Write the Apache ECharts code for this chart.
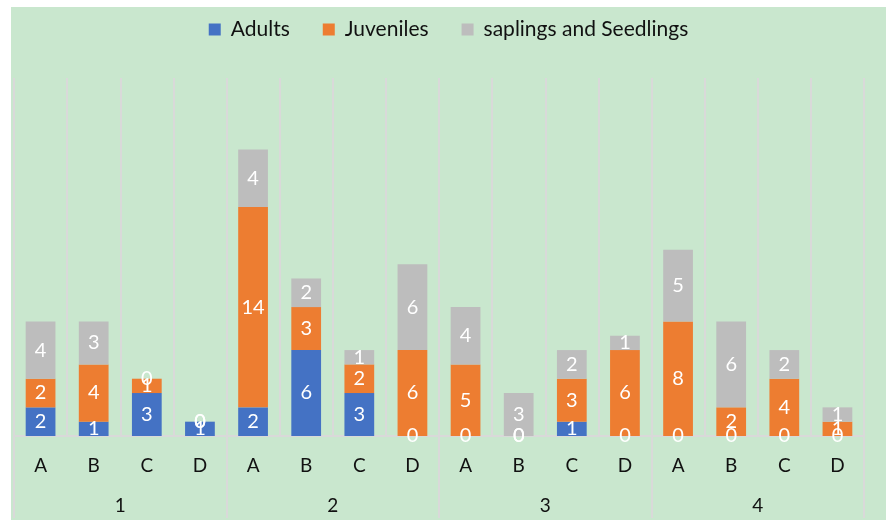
<!DOCTYPE html>
<html>
<head>
<meta charset="utf-8">
<script src="https://cdn.jsdelivr.net/npm/echarts@6/dist/echarts.min.js"></script>
<style>
html,body{margin:0;padding:0;background:#ffffff;}
#c{position:absolute;left:11px;top:7px;width:875px;height:513px;}
</style>
</head>
<body>
<div id="c"></div>
<script>
const categories = ['A','B','C','D','A','B','C','D','A','B','C','D','A','B','C','D'];
const groups = ['1','2','3','4'];
const adults    = [2,1,3,1, 2,6,3,0, 0,0,1,0, 0,0,0,0];
const juveniles = [2,4,1,0, 14,3,2,6, 5,0,3,6, 8,2,4,1];
const saplings  = [4,3,0,0, 4,2,1,6, 4,3,2,1, 5,6,2,1];

const FONT = 'Lato';
const chart = echarts.init(document.getElementById('c'));
const lbl = {show:true, position:'inside', color:'#ffffff', fontSize:20, fontFamily:FONT};
function mk(name, data, color){
  return {name, type:'bar', stack:'s', data, barWidth:'56%', itemStyle:{color}, label:lbl, xAxisIndex:0};
}
chart.setOption({
  backgroundColor:'#c9e7ce',
  animation:false,
  legend:{
    top:7, left:'center', itemWidth:12, itemHeight:12, itemGap:33, icon:'rect',
    textStyle:{fontSize:21, fontFamily:FONT, color:'#111', padding:[0,0,0,5]},
    data:['Adults','Juveniles','saplings and Seedlings']
  },
  grid:{left:3, right:22, top:71, bottom:84},
  xAxis:[
    {type:'category', data:categories, position:'bottom',
     axisLine:{show:true, lineStyle:{color:'#d9d9d9', width:2}},
     axisTick:{show:false},
     splitLine:{show:true, lineStyle:{color:'#d9d9d9', width:2}},
     axisLabel:{fontSize:19, fontFamily:FONT, color:'#111', margin:20, interval:0}},
    {type:'category', data:groups, position:'bottom', offset:0,
     axisLine:{show:false},
     axisTick:{show:true, length:82, lineStyle:{color:'#d9d9d9', width:2}},
     splitLine:{show:false},
     axisLabel:{fontSize:19, fontFamily:FONT, color:'#111', margin:60}}
  ],
  yAxis:{type:'value', min:0, max:25, show:false, splitLine:{show:false}},
  series:[
    mk('Adults', adults, '#4472c4'),
    mk('Juveniles', juveniles, '#ed7d31'),
    mk('saplings and Seedlings', saplings, '#bdbdbd')
  ]
});
</script>
</body>
</html>
